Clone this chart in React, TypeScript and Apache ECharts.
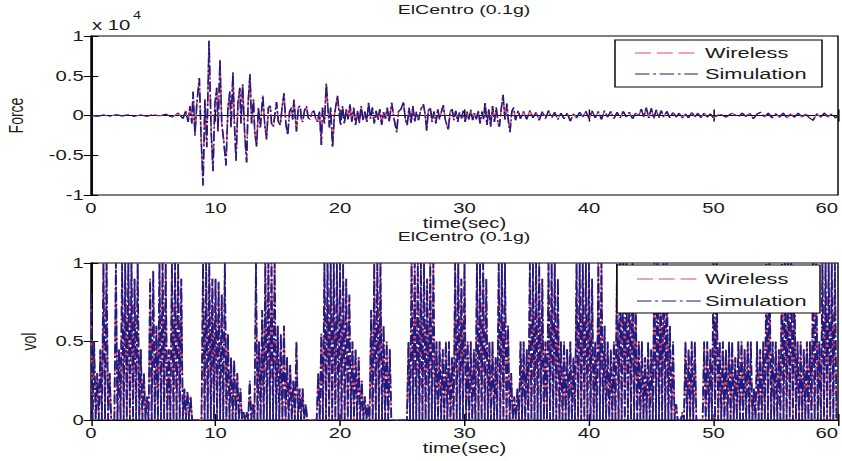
import React, { useEffect, useRef } from 'react';
import * as echarts from 'echarts';

// The reference picture is stretched horizontally; we draw at a narrower width and stretch with CSS.
const S = 1.45;
const W = 842 / S;
const H = 461;
const FONT = 'Liberation Sans, Arial, Helvetica, sans-serif';

// ---------- Force (x 10^4) : [time(sec), value] ----------
const forceEarly: [number, number][] = [
  [0, 0], [0.5, -0.01], [1, 0.005], [1.5, -0.008], [2, 0.01], [2.5, -0.005], [3, 0.008], [3.5, -0.012],
  [4, 0.006], [4.5, -0.01], [5, 0.012], [5.5, -0.006], [6, 0.015], [6.5, -0.02], [7, 0.03], [7.4, -0.04],
];
const forceStrong: [number, number][] = [
  [7.6, 0.06], [7.8, -0.08], [7.95, 0.12], [8.1, -0.1], [8.2, 0.3], [8.35, -0.25], [8.5, 0.15], [8.7, 0.47],
  [8.85, -0.3], [9.0, -0.88], [9.15, 0.2], [9.3, -0.4], [9.48, 0.94], [9.65, -0.2], [9.8, -0.7], [9.95, 0.15],
  [10.1, 0.35], [10.2, -0.2], [10.36, 0.7], [10.5, -0.1], [10.65, -0.3], [10.84, -0.63], [11.0, 0.1], [11.15, 0.3],
  [11.25, -0.15], [11.4, 0.54], [11.52, -0.1], [11.65, -0.57], [11.8, 0.15], [11.95, 0.35], [12.05, -0.1], [12.18, 0.39],
  [12.35, -0.25], [12.5, -0.59], [12.62, 0.15], [12.77, 0.52], [12.9, -0.1], [13.05, 0.2], [13.15, -0.2], [13.3, -0.39],
  [13.45, 0.1], [13.6, -0.15], [13.8, 0.25], [13.95, -0.1], [14.1, -0.3], [14.25, 0.1], [14.4, 0.12], [14.5, -0.1],
  [14.65, -0.14], [14.8, 0.05], [14.9, 0.17], [15.05, -0.08], [15.2, -0.12], [15.35, 0.1], [15.5, 0.28], [15.65, -0.1],
  [15.8, -0.25], [15.95, 0.05], [16.1, 0.1], [16.2, -0.05], [16.3, 0.2], [16.4, 0.0], [16.5, -0.2], [16.65, 0.1],
  [16.8, 0.12], [16.9, -0.05], [17.0, -0.08], [17.15, 0.06], [17.3, 0.12], [17.45, -0.03], [17.6, -0.05], [17.75, 0.04],
  [17.9, 0.06], [18.05, -0.04], [18.2, -0.08], [18.35, 0.05], [18.5, -0.37], [18.6, 0.1], [18.75, -0.1], [18.9, 0.4],
  [19.05, 0.05], [19.15, -0.15], [19.25, 0.1], [19.4, -0.4], [19.55, 0.0], [19.65, 0.1], [19.8, 0.25], [19.95, 0.0],
  [20.05, -0.12],
];
const forceMid: [number, number][] = [
  [20.2, 0.12], [20.35, -0.1], [20.5, 0.08], [20.65, -0.05], [20.8, 0.14], [20.95, -0.08], [21.1, 0.1], [21.25, -0.12],
  [21.4, 0.06], [21.55, -0.1], [21.7, 0.12], [21.85, -0.06], [22.0, 0.05], [22.15, -0.08], [22.3, 0.16], [22.45, -0.04],
  [22.6, 0.1], [22.75, -0.1], [22.9, 0.06], [23.05, -0.06], [23.2, 0.08], [23.35, -0.12], [23.5, 0.04], [23.65, -0.04],
  [23.8, 0.1], [23.95, -0.08], [24.15, 0.16], [24.35, -0.05], [24.55, -0.21], [24.7, 0.05], [24.9, 0.08], [25.1, 0.17],
  [25.25, -0.05], [25.4, -0.12], [25.55, 0.1], [25.7, -0.1], [25.85, 0.12], [26.0, -0.08], [26.15, 0.05], [26.3, -0.06],
  [26.5, 0.08], [26.7, 0.14], [26.85, 0.0], [26.96, -0.19], [27.1, 0.06], [27.25, 0.1], [27.4, -0.08], [27.55, 0.05],
  [27.7, -0.1], [27.85, 0.08], [28.0, -0.05], [28.15, 0.05], [28.3, 0.13], [28.45, -0.05], [28.7, -0.18], [28.85, 0.05],
  [29.0, 0.08], [29.15, -0.06], [29.3, 0.06], [29.45, -0.08], [29.6, 0.04], [29.75, -0.04], [29.9, 0.06], [30.05, -0.08],
  [30.2, 0.05], [30.35, -0.05], [30.5, 0.07], [30.65, -0.06], [30.8, 0.03], [30.95, -0.05], [31.1, 0.06], [31.25, -0.1],
  [31.4, 0.05], [31.55, -0.05], [31.65, 0.17], [31.8, -0.12], [31.95, 0.08], [32.1, -0.14], [32.25, 0.12], [32.4, -0.08],
  [32.55, 0.1], [32.7, -0.1], [32.8, -0.14], [32.95, 0.08], [33.1, 0.26], [33.25, -0.05], [33.4, 0.15], [33.52, -0.06],
  [33.65, -0.21], [33.8, 0.05], [33.95, 0.1], [34.1, -0.06], [34.3, 0.06], [34.5, -0.04],
];
const forceLate: [number, number][] = [
  [34.75, 0.05], [35.0, -0.05], [35.25, 0.06], [35.5, -0.03], [35.75, 0.04], [36.0, -0.06], [36.25, 0.05], [36.5, -0.04],
  [36.75, 0.06], [37.0, -0.03], [37.25, 0.04], [37.5, -0.05], [37.75, 0.03], [38.0, -0.04], [38.25, 0.03], [38.5, -0.07],
  [38.75, 0.02], [39.0, -0.03], [39.25, 0.04], [39.5, -0.02], [39.75, 0.05], [40.0, -0.04], [40.25, 0.06], [40.5, -0.03],
  [40.75, 0.05], [41.0, -0.05], [41.25, 0.06], [41.5, -0.02], [41.75, 0.05], [42.0, -0.04], [42.25, 0.04], [42.5, -0.03],
  [42.75, 0.05], [43.0, -0.02], [43.25, 0.04], [43.5, -0.04], [43.75, 0.03], [44.0, 0.0], [44.2, 0.08], [44.4, -0.02],
  [44.6, 0.1], [44.8, -0.03], [45.0, 0.09], [45.2, -0.04], [45.4, 0.07], [45.6, -0.03], [45.8, 0.06], [46.0, -0.02],
  [46.25, 0.05], [46.5, -0.03], [46.75, 0.04], [47.0, -0.02], [47.25, 0.03], [47.5, -0.03], [47.75, 0.02], [48.0, -0.03],
  [48.25, 0.04], [48.5, -0.02], [48.75, 0.03], [49.0, -0.03], [49.25, 0.03], [49.5, -0.02], [49.75, 0.02], [50.0, -0.03],
  [50.5, 0.02], [51.0, -0.02], [51.5, 0.03], [52.0, -0.02], [52.3, 0.03], [52.6, -0.01], [52.9, 0.03], [53.2, -0.04],
  [53.5, 0.02], [53.8, 0.04], [54.1, -0.02], [54.4, 0.03], [54.7, -0.03], [55.0, 0.02], [55.3, -0.02], [55.6, 0.03],
  [55.9, -0.03], [56.2, 0.02], [56.5, -0.02], [56.8, 0.03], [57.1, -0.02], [57.4, 0.02], [57.7, -0.03], [58.0, -0.06],
  [58.3, 0.02], [58.6, -0.02], [58.9, 0.03], [59.2, -0.02], [59.5, 0.02], [59.8, -0.03], [60.0, 0.0],
];

// ---------- vol : peak height of each pulse, one every 0.25 s ----------
const volStep = 0.25;
const vol00to10 = [
  0.8, 0.5, 0.3, 0.45, 1, 1, 0.3, 0, 1, 0.45, 1, 1, 1, 1, 0.9, 1, 0.45, 0.3, 0.15, 0.9,
  0.95, 0.6, 1, 1, 1, 0.45, 1, 1, 1, 0.9, 0.2, 0.18, 0.15, 0, 0, 0, 1, 1, 1, 0.9,
];
const vol10to20 = [
  0.9, 0.88, 0.8, 1, 0.55, 0.4, 0.38, 0.3, 0.2, 0.05, 0.05, 0.25, 0.1, 1, 0.5, 0.7, 1, 1, 1, 1,
  0.6, 0.55, 0.6, 0.4, 0.35, 0.25, 0.5, 0.2, 0.2, 0.1, 0, 0, 0, 0.3, 0.55, 1, 1, 1, 1, 1,
];
const vol20to30 = [
  1, 1, 0.9, 0.8, 0.5, 0.45, 0.4, 0.25, 0.15, 0.1, 0.7, 1, 1, 1, 0.6, 0.5, 0.45, 0, 0, 0,
  0, 0, 0.5, 1, 1, 1, 1, 1, 0.9, 1, 1, 0.5, 0.5, 0.45, 0.5, 0.5, 0.4, 1, 1, 0.9,
];
const vol30to40 = [
  1, 0.5, 0.5, 0.45, 1, 1, 1, 0.9, 0.5, 0.5, 0.4, 1, 1, 1, 0.6, 0.3, 0.15, 0.2, 0.5, 0.5,
  0.45, 1, 1, 1, 1, 0.9, 0.5, 1, 1, 1, 0.9, 0.5, 0.5, 0.45, 0.5, 0.4, 1, 1, 1, 1,
];
const vol40to50 = [
  1, 0.9, 0.5, 1, 1, 0.6, 0.5, 0.45, 0.5, 1, 1, 1, 1, 0.9, 1, 0.8, 0.5, 0.5, 0.4, 0.5,
  0.45, 1, 1, 0.9, 1, 1, 0.6, 0.5, 0.1, 0, 0.05, 0.5, 0.45, 0.5, 0.5, 0, 0, 0.5, 0.5, 0.45,
];
const vol50to60 = [
  1, 1, 0.5, 0.5, 0.45, 0.5, 0.5, 0.4, 0.5, 0.5, 0.45, 0.5, 0.5, 0.2, 0.5, 0.45, 0.5, 1, 1, 0.5,
  0.5, 0.45, 1, 1, 1, 1, 0.9, 0.5, 0.5, 0.45, 0.5, 0.5, 1, 1, 0.5, 1, 1, 1, 1, 1,
];

const timeTicks = { min: 0, max: 60, interval: 10 };
const forceTicks = { min: -1, max: 1, interval: 0.5 };
const volTicks = { min: 0, max: 1, interval: 0.5 };
const titleText = 'ElCentro (0.1g)';
const seriesNames = ['Wireless', 'Simulation'];

const WIRELESS_COLOR = '#dc4a62';
const SIM_COLOR = '#1c1c84';
const TEXT_COLOR = '#1a1a1a';
const wirelessDash = [11, 4];
const simDash = [10, 2.5, 2, 2.5];

function legendGraphic(box: { x: number; y: number; w: number; h: number; lineX1: number; lineX2: number; textX: number; rowY: number[] }) {
  const Z = 200;
  const children: any[] = [
    { type: 'rect', z: Z, shape: { x: box.x, y: box.y, width: box.w, height: box.h },
      style: { fill: '#fff', stroke: '#000', lineWidth: 1 } },
  ];
  const colors = [WIRELESS_COLOR, SIM_COLOR];
  const dashes = [wirelessDash, simDash];
  seriesNames.forEach((name, i) => {
    children.push({ type: 'line', z: Z + 1, shape: { x1: box.lineX1, y1: box.rowY[i], x2: box.lineX2, y2: box.rowY[i] },
      style: { stroke: colors[i], lineWidth: 1.1, lineDash: dashes[i] } });
    children.push({ type: 'text', z: Z + 1, x: box.textX, y: box.rowY[i],
      style: { text: name, fontFamily: FONT, fontSize: 15, fill: TEXT_COLOR, align: 'left', verticalAlign: 'middle' } });
  });
  return { type: 'group', silent: true, children };
}

function buildOption() {
  const forceData = [...forceEarly, ...forceStrong, ...forceMid, ...forceLate];
  const volHeights = [...vol00to10, ...vol10to20, ...vol20to30, ...vol30to40, ...vol40to50, ...vol50to60];
  const volData: [number, number][] = [];
  volHeights.forEach((h, i) => {
    const t = i * volStep;
    volData.push([t, h], [t + volStep / 2, 0]);
  });

  const gridLeft = 91 / S;
  const gridRight = W - 838 / S;
  const grids = [
    { left: gridLeft, right: gridRight, top: 36, height: 159 },
    { left: gridLeft, right: gridRight, top: 263, height: 157 },
  ].map((g) => ({ ...g, show: true, borderColor: '#000', borderWidth: 1, backgroundColor: 'transparent',
    containLabel: false, outerBoundsMode: 'none' }));

  const textStyle = { color: TEXT_COLOR, fontFamily: FONT, fontSize: 14 };

  const xMain = (gridIndex: number, nameGap: number) => ({
    type: 'value', gridIndex, ...timeTicks, position: 'bottom',
    axisLine: { show: true, lineStyle: { color: '#000', width: 1 } },
    axisTick: { show: true, inside: true, length: 6, lineStyle: { color: '#000' } },
    splitLine: { show: false },
    axisLabel: { ...textStyle, margin: 6, hideOverlap: false, alignMaxLabel: 'right' },
    name: 'time(sec)', nameLocation: 'middle', nameGap, nameTextStyle: { ...textStyle },
  });
  const xMirror = (gridIndex: number) => ({
    type: 'value', gridIndex, ...timeTicks, position: 'top',
    axisLine: { show: true, lineStyle: { color: '#000', width: 1 } },
    axisTick: { show: true, inside: true, length: 6, lineStyle: { color: '#000' } },
    splitLine: { show: false }, axisLabel: { show: false },
  });
  const yMain = (gridIndex: number, ticks: any, name: string, nameGap: number) => ({
    type: 'value', gridIndex, ...ticks, position: 'left',
    axisLine: { show: true, lineStyle: { color: '#000', width: 1 } },
    axisTick: { show: true, inside: true, length: 5, lineStyle: { color: '#000' } },
    splitLine: { show: false },
    axisLabel: { ...textStyle, margin: 5 },
    name, nameLocation: 'middle', nameGap, nameRotate: 90, nameTextStyle: { ...textStyle },
  });
  const yMirror = (gridIndex: number, ticks: any) => ({
    type: 'value', gridIndex, ...ticks, position: 'right',
    axisLine: { show: true, lineStyle: { color: '#000', width: 1 } },
    axisTick: { show: true, inside: true, length: 5, lineStyle: { color: '#000' } },
    splitLine: { show: false }, axisLabel: { show: false },
  });

  const lineSeries = (name: string, data: any, axisIndex: number, color: string, dash: number[], width: number) => ({
    name, type: 'line', data, xAxisIndex: axisIndex * 2, yAxisIndex: axisIndex * 2,
    showSymbol: false, symbol: 'none', silent: true, clip: true, z: 2,
    lineStyle: { color, width, type: dash },
    itemStyle: { color },
  });

  return {
    animation: false,
    backgroundColor: '#fff',
    grid: grids,
    xAxis: [xMain(0, 14), xMirror(0), xMain(1, 19), xMirror(1)],
    yAxis: [yMain(0, forceTicks, 'Force', 45), yMirror(0, forceTicks), yMain(1, volTicks, 'vol', 36), yMirror(1, volTicks)],
    series: [
      lineSeries(seriesNames[0], forceData, 0, WIRELESS_COLOR, wirelessDash, 1.1),
      lineSeries(seriesNames[1], forceData, 0, SIM_COLOR, simDash, 1.1),
      lineSeries(seriesNames[0], volData, 1, WIRELESS_COLOR, wirelessDash, 1.1),
      lineSeries(seriesNames[1], volData, 1, SIM_COLOR, simDash, 1.25),
    ],
    graphic: {
      elements: [
        { type: 'text', x: 464 / S, y: 10, silent: true, z: 200,
          style: { text: titleText, fontFamily: FONT, fontSize: 13.5, fill: TEXT_COLOR, align: 'center', verticalAlign: 'middle' } },
        { type: 'text', x: 464 / S, y: 237, silent: true, z: 200,
          style: { text: titleText, fontFamily: FONT, fontSize: 13.5, fill: TEXT_COLOR, align: 'center', verticalAlign: 'middle' } },
        { type: 'text', x: 92 / S, y: 25, silent: true, z: 200,
          style: { text: 'x 10', fontFamily: FONT, fontSize: 14, fill: TEXT_COLOR, align: 'left', verticalAlign: 'middle' } },
        { type: 'text', x: 133 / S, y: 16, silent: true, z: 200,
          style: { text: '4', fontFamily: FONT, fontSize: 10, fill: TEXT_COLOR, align: 'left', verticalAlign: 'middle' } },
        legendGraphic({ x: 615 / S, y: 40, w: 207 / S, h: 47, lineX1: 635 / S, lineX2: 698 / S, textX: 705 / S, rowY: [53, 74] }),
        legendGraphic({ x: 617 / S, y: 265, w: 203 / S, h: 48, lineX1: 637 / S, lineX2: 702 / S, textX: 705 / S, rowY: [279, 301] }),
      ],
    },
  };
}

export default function App() {
  const ref = useRef<HTMLDivElement>(null);
  useEffect(() => {
    if (!ref.current) return;
    const chart = echarts.init(ref.current, null, { renderer: 'svg', width: W, height: H });
    chart.setOption(buildOption() as any);
    return () => chart.dispose();
  }, []);
  return (
    <div style={{ position: 'fixed', left: 0, top: 0, width: 842, height: 461, overflow: 'hidden', background: '#fff' }}>
      <div ref={ref} style={{ width: W, height: H, transform: `scaleX(${S})`, transformOrigin: '0 0' }} />
    </div>
  );
}
